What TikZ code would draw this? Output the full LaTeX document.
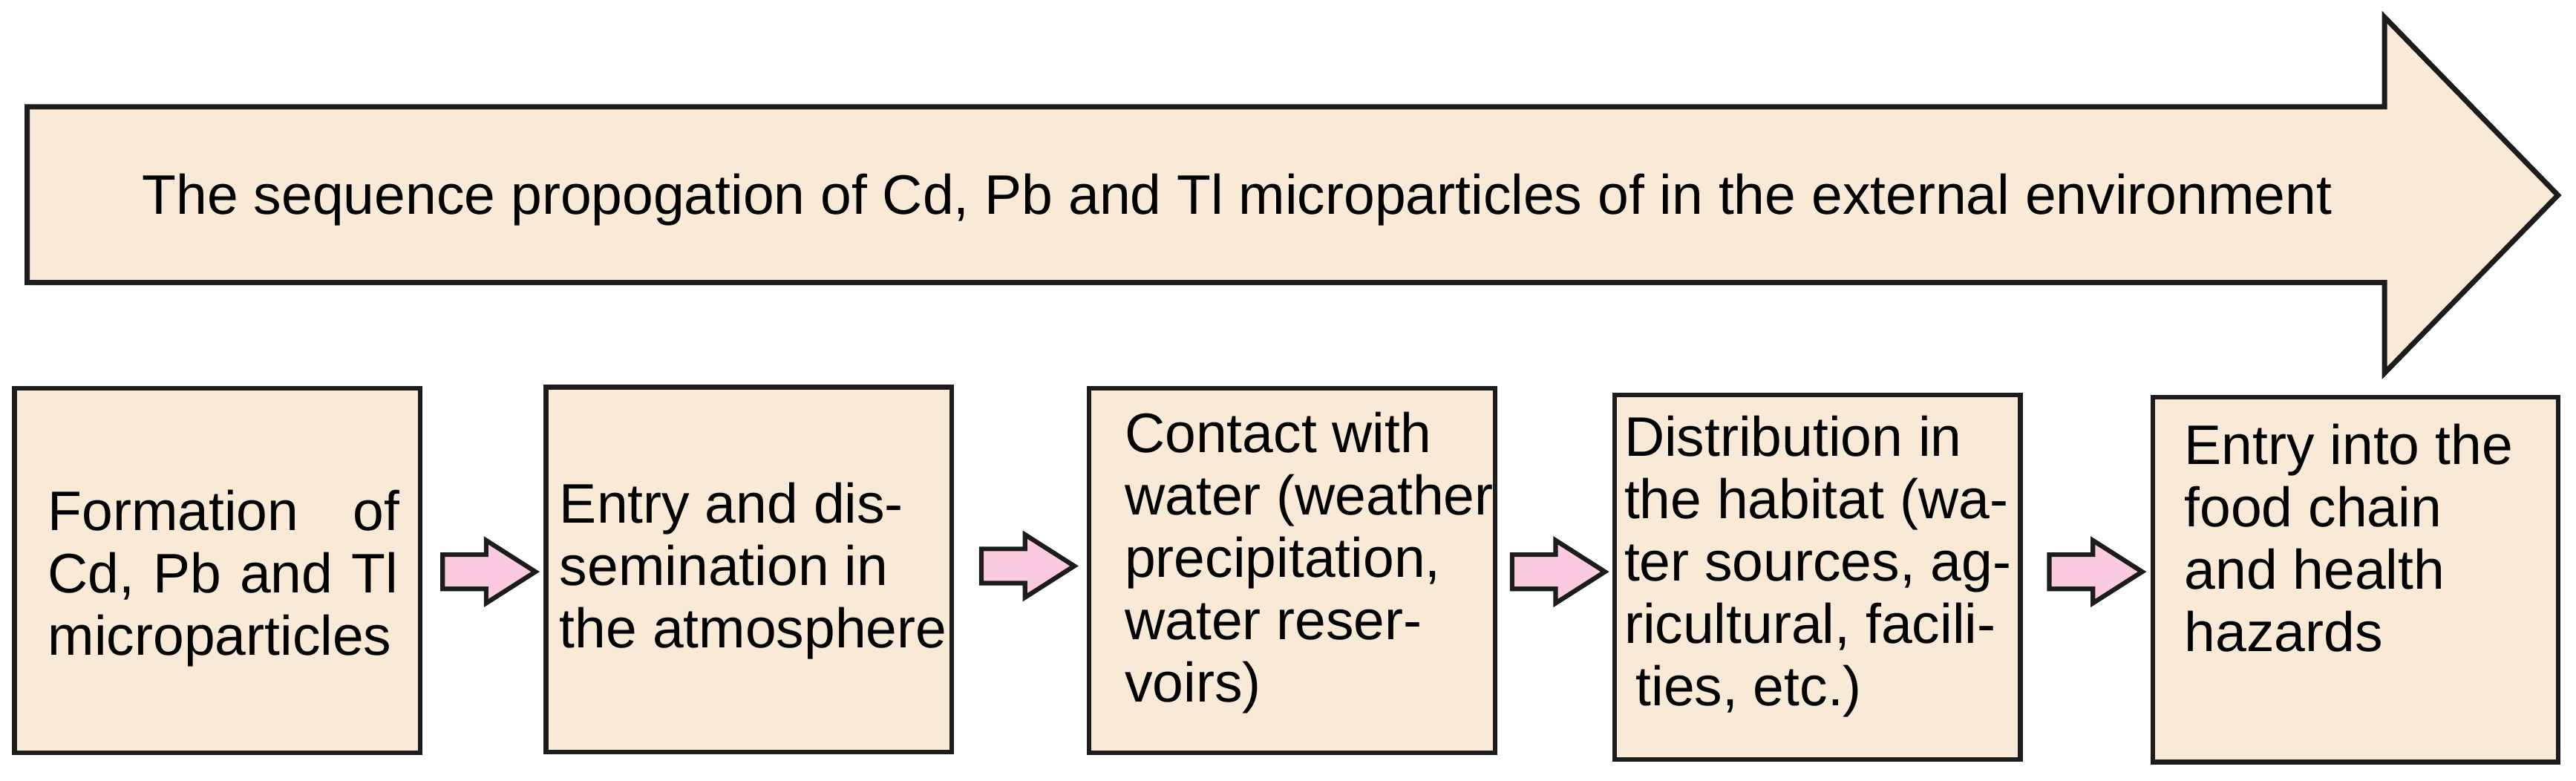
\documentclass[tikz,border=0pt]{standalone}
\usepackage{fontspec}
\setmainfont{Liberation Sans}
\usetikzlibrary{shapes.arrows}
\definecolor{sand}{RGB}{249,234,216}
\definecolor{rose}{RGB}{250,202,222}
\definecolor{rim}{RGB}{28,28,28}

\begin{document}
\begin{tikzpicture}[
  x=0.1mm, y=-0.1mm, font=\fontsize{9.65}{10.8}\selectfont,
  stagebox/.style={draw=rim, fill=sand, line width=0.8pt,
    minimum width=24.7mm, minimum height=22.2mm, inner sep=0pt},
  stagetext/.style={anchor=north west, align=left, inner sep=0pt,
    execute at begin node=\strut},
  flow/.style={single arrow, draw=rim, fill=rose, line width=0.8pt,
    minimum height=5.65mm, minimum width=3.54mm,
    inner xsep=0pt, inner ysep=0.9mm, anchor=tail,
    single arrow head extend=0.87mm, single arrow tip angle=65}]

\useasboundingbox (0,0) rectangle (1568,475);

% the long arrow on top
\filldraw[fill=sand, draw=rim, line width=0.9pt]
  (16.6,65) -- (1451.5,65) -- (1451.5,10.5) -- (1557,118.8)
  -- (1451.5,227) -- (1451.5,172) -- (16.6,172) -- cycle;
\node[anchor=base west, inner sep=0pt] (seq) at (86,130.3)
  {The sequence propogation of Cd, Pb and Tl microparticles of in the external environment};

% stages
\node[stagebox] (FO) at (132.3,347.3) {};
\node[stagebox] (AT) at (455.8,346.6) {};
\node[stagebox] (WA) at (786.5,347.3) {};
\node[stagebox] (HA) at (1106.3,351.3) {};
\node[stagebox] (FC) at (1433.8,352.8) {};

\node[stagetext, text width=21.4mm] (FOt) at (28.5,295.4)
  {Formation \hfill of\\Cd, Pb and Tl\\microparticles};
\node[stagetext] (ATt) at (340,293) {Entry and dis-\\semination in\\the atmosphere};
\node[stagetext] (WAt) at (684,250)
  {Contact with\\water (weather\\precipitation,\\water reser-\\voirs)};
\node[stagetext] (HAt) at (988,252.4)
  {Distribution in\\the habitat (wa-\\ter sources, ag-\\ricultural, facili-\\\hspace*{0.7mm}ties, etc.)};
\node[stagetext] (FCt) at (1329,257.4) {Entry into the\\food chain\\and health\\hazards};

% block arrows between the stages
\node[flow] (p1) at (268,348) {};
\node[flow] (p2) at (596,344.5) {};
\node[flow] (p3) at (919,348) {};
\node[flow] (p4) at (1246,348) {};

\end{tikzpicture}
\end{document}
